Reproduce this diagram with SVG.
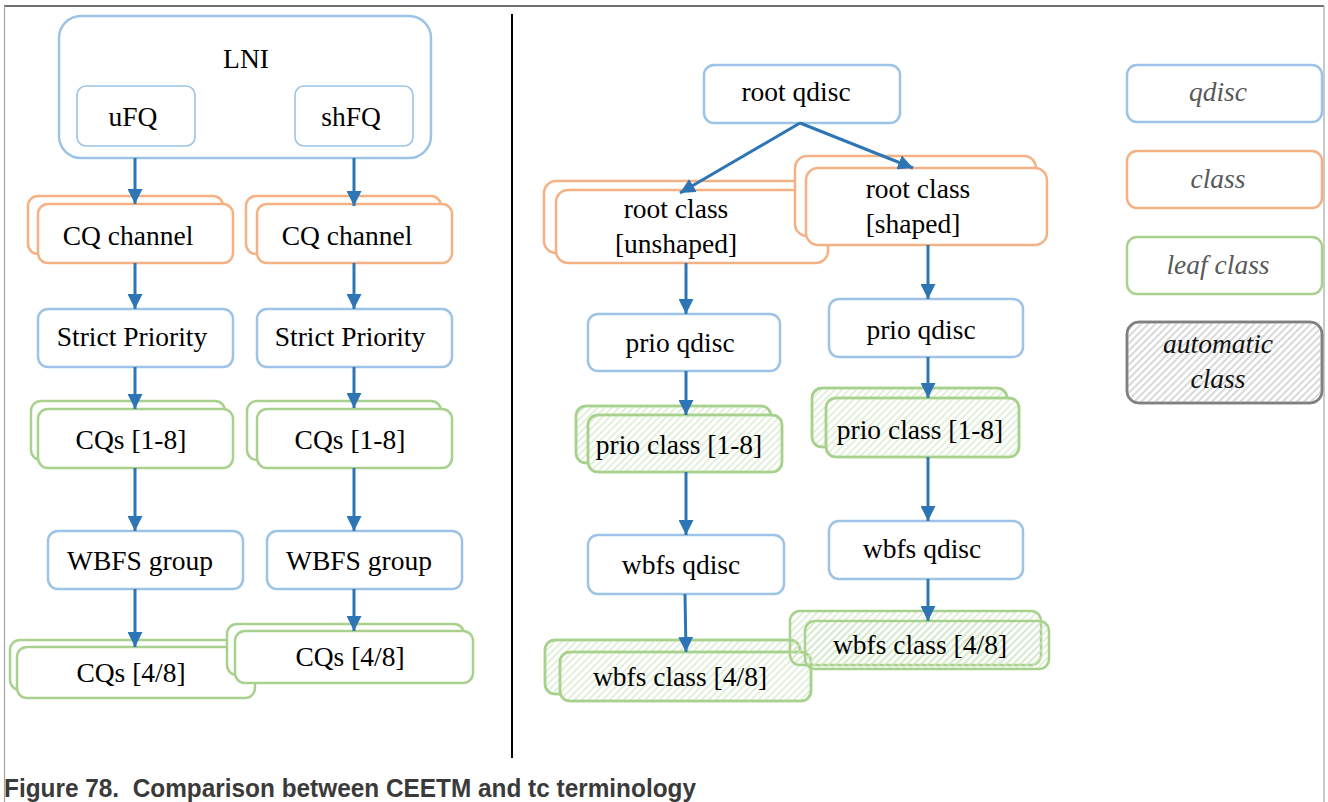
<svg xmlns="http://www.w3.org/2000/svg" width="1328" height="802" viewBox="0 0 1328 802">
<style>
.q{fill:#fff;stroke:#9dc3e6;stroke-width:2.5}
.qs{fill:#fff;stroke:#9dc3e6;stroke-width:1.6}
.c{fill:#fff;stroke:#f4b183;stroke-width:2.5}
.l{fill:#fff;stroke:#a9d18e;stroke-width:2.5}
.lh{fill:url(#hg);stroke:#a9d18e;stroke-width:2.5}
.t{font-family:"Liberation Serif","Times New Roman",serif;font-size:27.5px;fill:#000;text-anchor:middle}
.lg{font-family:"Liberation Serif","Times New Roman",serif;font-size:27.5px;font-style:italic;fill:#595959;text-anchor:middle}
.cn line{stroke:#2e75b6;stroke-width:3;marker-end:url(#ah)}
</style>
<defs>
<pattern id="hg" width="5" height="5" patternUnits="userSpaceOnUse" patternTransform="rotate(45)">
<line x1="1" y1="0" x2="1" y2="5" stroke="#d3e7c6" stroke-width="1.3"/>
</pattern>
<pattern id="hgr" width="5" height="5" patternUnits="userSpaceOnUse" patternTransform="rotate(45)">
<line x1="1" y1="0" x2="1" y2="5" stroke="#cccccc" stroke-width="1.5"/>
</pattern>
<marker id="ah" viewBox="0 0 10 10" refX="10" refY="5" markerWidth="15" markerHeight="15" markerUnits="userSpaceOnUse" orient="auto">
<path d="M0,0 L10,5 L0,10 z" fill="#2e75b6"/>
</marker>
</defs>
<rect x="0" y="0" width="1328" height="802" fill="#fff"/>
<g id="frame">
<line x1="4" y1="6" x2="1324" y2="6" stroke="#404040" stroke-width="1.5"/>
<line x1="4.5" y1="6" x2="4.5" y2="802" stroke="#a6a6a6" stroke-width="1.2"/>
<line x1="1324" y1="6" x2="1324" y2="802" stroke="#a6a6a6" stroke-width="1.2"/>
<line x1="512" y1="14" x2="512" y2="758" stroke="#000" stroke-width="2"/>
</g>
<g id="lni">
<rect class="q" x="59" y="16" width="372" height="142" rx="22" stroke-width="3"/>
<text class="t" x="246" y="68">LNI</text>
</g>
<g id="ufq">
<rect class="qs" x="77" y="86" width="118" height="60" rx="9"/>
<text class="t" x="133" y="126">uFQ</text>
</g>
<g id="shfq">
<rect class="qs" x="295" y="86" width="118" height="60" rx="9"/>
<text class="t" x="351" y="126">shFQ</text>
</g>
<g id="cqch-l">
<rect class="c" x="28" y="196" width="195" height="58" rx="10"/>
<rect class="c" x="38" y="204" width="195" height="59" rx="10"/>
<text class="t" x="128" y="245">CQ channel</text>
</g>
<g id="cqch-r">
<rect class="c" x="246" y="196" width="195" height="58" rx="10"/>
<rect class="c" x="257" y="204" width="195" height="59" rx="10"/>
<text class="t" x="347" y="245">CQ channel</text>
</g>
<g id="sp-l">
<rect class="q" x="38" y="309" width="195" height="58" rx="10"/>
<text class="t" x="132" y="346">Strict Priority</text>
</g>
<g id="sp-r">
<rect class="q" x="257" y="309" width="195" height="58" rx="10"/>
<text class="t" x="350" y="346">Strict Priority</text>
</g>
<g id="cq18-l">
<rect class="l" x="31" y="401" width="194" height="59" rx="10"/>
<rect class="l" x="38" y="409" width="195" height="59" rx="10"/>
<text class="t" x="131" y="449">CQs [1-8]</text>
</g>
<g id="cq18-r">
<rect class="l" x="247" y="401" width="194" height="59" rx="10"/>
<rect class="l" x="257" y="409" width="195" height="59" rx="10"/>
<text class="t" x="350" y="449">CQs [1-8]</text>
</g>
<g id="wbfs-l">
<rect class="q" x="48" y="531" width="195" height="58" rx="10"/>
<text class="t" x="140" y="570">WBFS group</text>
</g>
<g id="wbfs-r">
<rect class="q" x="267" y="531" width="195" height="58" rx="10"/>
<text class="t" x="359" y="570">WBFS group</text>
</g>
<g id="cq48-l">
<rect class="l" x="10" y="640" width="240" height="50" rx="10"/>
<rect class="l" x="17" y="647" width="238" height="51" rx="10"/>
<text class="t" x="131" y="682">CQs [4/8]</text>
</g>
<g id="cq48-r">
<rect class="l" x="227" y="624" width="237" height="51" rx="10"/>
<rect class="l" x="235" y="631" width="238" height="52" rx="10"/>
<text class="t" x="350" y="666">CQs [4/8]</text>
</g>
<g id="rootq">
<rect class="q" x="704" y="65" width="196" height="58" rx="10"/>
<text class="t" x="796" y="101">root qdisc</text>
</g>
<g id="rootc-u">
<rect class="c" x="544" y="181" width="260" height="72" rx="12"/>
<rect class="c" x="556" y="190" width="272" height="73" rx="12"/>
<text class="t" x="676" y="218">root class</text>
<text class="t" x="676" y="253">[unshaped]</text>
</g>
<g id="rootc-s">
<rect class="c" x="795" y="156" width="241" height="80" rx="12"/>
<rect class="c" x="806" y="168" width="241" height="77" rx="12"/>
<text class="t" x="918" y="198">root class</text>
<text class="t" x="913" y="233">[shaped]</text>
</g>
<g id="prioq-l">
<rect class="q" x="588" y="314" width="192" height="57" rx="10"/>
<text class="t" x="680" y="352">prio qdisc</text>
</g>
<g id="prioq-r">
<rect class="q" x="829" y="299" width="194" height="58" rx="10"/>
<text class="t" x="921" y="339">prio qdisc</text>
</g>
<g id="prioc-l">
<rect class="l" x="576" y="406" width="195" height="57" rx="10"/>
<rect class="lh" x="576" y="406" width="195" height="57" rx="10"/>
<rect class="l" x="588" y="415" width="194" height="57" rx="10"/>
<rect class="lh" x="588" y="415" width="194" height="57" rx="10"/>
<text class="t" x="679" y="454">prio class [1-8]</text>
</g>
<g id="prioc-r">
<rect class="l" x="812" y="388" width="195" height="59" rx="10"/>
<rect class="lh" x="812" y="388" width="195" height="59" rx="10"/>
<rect class="l" x="826" y="398" width="193" height="59" rx="10"/>
<rect class="lh" x="826" y="398" width="193" height="59" rx="10"/>
<text class="t" x="920" y="439">prio class [1-8]</text>
</g>
<g id="wbfsq-l">
<rect class="q" x="588" y="535" width="196" height="59" rx="10"/>
<text class="t" x="681" y="574">wbfs qdisc</text>
</g>
<g id="wbfsq-r">
<rect class="q" x="829" y="521" width="194" height="58" rx="10"/>
<text class="t" x="922" y="558">wbfs qdisc</text>
</g>
<g id="wbfsc-l">
<rect class="l" x="545" y="640" width="255" height="54" rx="10"/>
<rect class="lh" x="545" y="640" width="255" height="54" rx="10"/>
<rect class="l" x="560" y="652" width="251" height="49" rx="10"/>
<rect class="lh" x="560" y="652" width="251" height="49" rx="10"/>
<text class="t" x="680" y="686">wbfs class [4/8]</text>
</g>
<g id="wbfsc-r">
<rect class="lh" x="790" y="611" width="251" height="54" rx="10"/>
<rect class="lh" x="805" y="621" width="244" height="48" rx="10"/>
<text class="t" x="920" y="654">wbfs class [4/8]</text>
</g>
<g id="lg-qdisc">
<rect class="q" x="1127" y="65" width="195" height="57" rx="10"/>
<text class="lg" x="1218" y="101">qdisc</text>
</g>
<g id="lg-class">
<rect class="c" x="1127" y="151" width="195" height="57" rx="10"/>
<text class="lg" x="1218" y="188">class</text>
</g>
<g id="lg-leaf">
<rect class="l" x="1127" y="237" width="195" height="57" rx="10"/>
<text class="lg" x="1218" y="274">leaf class</text>
</g>
<g id="lg-auto">
<rect x="1127" y="322" width="195" height="81" rx="12" fill="#fff" stroke="#808080" stroke-width="2.5"/>
<rect x="1127" y="322" width="195" height="81" rx="12" fill="url(#hgr)" stroke="#808080" stroke-width="2.5"/>
<text class="lg" x="1218" y="353" style="fill:#111">automatic</text>
<text class="lg" x="1218" y="388" style="fill:#111">class</text>
</g>
<g id="connectors" class="cn">
<line x1="135" y1="158" x2="135" y2="204"/>
<line x1="354" y1="158" x2="354" y2="206"/>
<line x1="135" y1="263" x2="135" y2="309"/>
<line x1="354" y1="263" x2="354" y2="309"/>
<line x1="135" y1="367" x2="135" y2="409"/>
<line x1="354" y1="367" x2="354" y2="408"/>
<line x1="135" y1="468" x2="135" y2="531"/>
<line x1="354" y1="468" x2="354" y2="531"/>
<line x1="135" y1="589" x2="135" y2="647"/>
<line x1="354" y1="589" x2="354" y2="631"/>
<line x1="800" y1="123" x2="680" y2="193"/>
<line x1="800" y1="123" x2="913" y2="168"/>
<line x1="686" y1="263" x2="686" y2="314"/>
<line x1="686" y1="371" x2="686" y2="415"/>
<line x1="686" y1="472" x2="686" y2="535"/>
<line x1="685" y1="594" x2="686" y2="652"/>
<line x1="928" y1="245" x2="928" y2="299"/>
<line x1="928" y1="357" x2="928" y2="398"/>
<line x1="928" y1="457" x2="928" y2="521"/>
<line x1="928" y1="579" x2="928" y2="621"/>
</g>
<text id="caption" x="4" y="797" font-family="'Liberation Sans',Arial,sans-serif" font-weight="bold" font-size="25" fill="#3a3a3a" textLength="692" lengthAdjust="spacingAndGlyphs">Figure 78.&#160; Comparison between CEETM and tc terminology</text>
</svg>
